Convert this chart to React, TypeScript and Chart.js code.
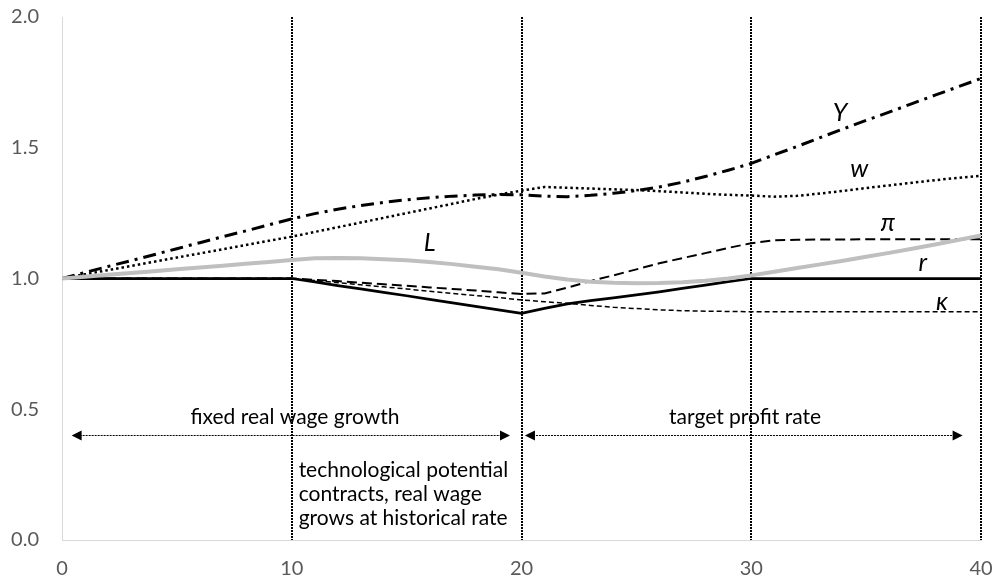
import React, { useEffect, useRef } from "react";
import { Chart, registerables } from "chart.js";
Chart.register(...registerables);

const years = [0,1,2,3,4,5,6,7,8,9,10,11,12,13,14,15,16,17,18,19,20,21,22,23,24,25,26,27,28,29,30,31,32,33,34,35,36,37,38,39,40];

const seriesY = [1.0,1.023,1.046,1.068,1.091,1.114,1.137,1.16,1.182,1.205,1.228,1.248,1.265,1.279,1.291,1.301,1.309,1.315,1.319,1.321,1.32,1.315,1.313,1.318,1.326,1.336,1.35,1.368,1.39,1.414,1.44,1.473,1.505,1.539,1.572,1.605,1.636,1.669,1.701,1.733,1.765];
const seriesW = [1.0,1.016,1.032,1.048,1.064,1.08,1.096,1.112,1.128,1.144,1.16,1.178,1.196,1.214,1.232,1.25,1.268,1.286,1.304,1.321,1.336,1.35,1.347,1.344,1.341,1.338,1.334,1.329,1.324,1.32,1.317,1.313,1.316,1.325,1.335,1.346,1.356,1.366,1.376,1.385,1.393];
const seriesPi = [1.0,1.0,1.0,1.0,1.0,1.0,1.0,1.0,1.0,1.0,1.0,0.995,0.99,0.984,0.978,0.972,0.966,0.96,0.954,0.947,0.941,0.943,0.965,0.99,1.012,1.035,1.058,1.078,1.097,1.117,1.135,1.146,1.148,1.149,1.149,1.15,1.15,1.15,1.15,1.15,1.15];
const seriesL = [1.0,1.007,1.014,1.021,1.028,1.035,1.042,1.049,1.056,1.063,1.071,1.077,1.078,1.077,1.074,1.07,1.063,1.055,1.045,1.035,1.022,1.008,0.996,0.988,0.984,0.982,0.983,0.986,0.991,1.0,1.012,1.026,1.04,1.054,1.068,1.083,1.098,1.114,1.13,1.147,1.165];
const seriesR = [1.0,1.0,1.0,1.0,1.0,1.0,1.0,1.0,1.0,1.0,1.0,0.987,0.973,0.96,0.947,0.934,0.92,0.907,0.893,0.88,0.867,0.886,0.903,0.915,0.926,0.937,0.949,0.962,0.975,0.988,1.0,1.0,1.0,1.0,1.0,1.0,1.0,1.0,1.0,1.0,1.0];
const seriesKappa = [1.0,1.0,1.0,1.0,1.0,1.0,1.0,1.0,1.0,1.0,1.0,0.992,0.984,0.976,0.968,0.96,0.951,0.943,0.935,0.927,0.918,0.911,0.905,0.897,0.89,0.885,0.88,0.877,0.875,0.874,0.873,0.873,0.873,0.873,0.873,0.873,0.873,0.873,0.873,0.873,0.873];

const yTicks = [0, 0.5, 1.0, 1.5, 2.0];
const xTicks = [0, 10, 20, 30, 40];
const phaseLines = [10, 20, 30, 40];

const seriesLabels = [
  { text: "Y", x: 33.86, y: 1.633 },
  { text: "w", x: 34.7, y: 1.419 },
  { text: "π", x: 35.95, y: 1.212 },
  { text: "L", x: 16.0, y: 1.136 },
  { text: "r", x: 37.47, y: 1.059 },
  { text: "κ", x: 38.3, y: 0.91 },
];

const arrows = [
  { from: 0.42, to: 19.5, y: 0.4 },
  { from: 20.15, to: 39.2, y: 0.4 },
];

const phaseTexts = [
  { lines: ["fixed real wage growth"], x: 10.14, y: 0.471, align: "center" },
  { lines: ["target profit rate"], x: 29.73, y: 0.471, align: "center" },
  { lines: ["technological potential", "contracts, real wage", "grows at historical rate"], x: 10.3, y: 0.268, align: "left" },
];

const FONT = "Lato, 'Open Sans', sans-serif";

const annotPlugin = {
  id: "annot",
  beforeDatasetsDraw(chart: any) {
    const { ctx, scales } = chart;
    const x = scales.x, y = scales.y;
    ctx.save();
    ctx.strokeStyle = "#000";
    ctx.lineWidth = 2;
    ctx.setLineDash([2, 1]);
    for (const v of phaseLines) {
      const px = Math.round(x.getPixelForValue(v));
      ctx.beginPath();
      ctx.moveTo(px, y.getPixelForValue(2));
      ctx.lineTo(px, y.getPixelForValue(0));
      ctx.stroke();
    }
    ctx.restore();
  },
  afterDatasetsDraw(chart: any) {
    const { ctx, scales } = chart;
    const x = scales.x, y = scales.y;
    ctx.save();
    for (const a of arrows) {
      const x1 = x.getPixelForValue(a.from);
      const x2 = x.getPixelForValue(a.to);
      const py = Math.round(y.getPixelForValue(a.y)) + 0.5;
      ctx.strokeStyle = "#000";
      ctx.lineWidth = 1;
      ctx.setLineDash([2, 1]);
      ctx.beginPath();
      ctx.moveTo(x1 + 8, py);
      ctx.lineTo(x2 - 8, py);
      ctx.stroke();
      ctx.setLineDash([]);
      ctx.fillStyle = "#000";
      ctx.beginPath();
      ctx.moveTo(x1, py);
      ctx.lineTo(x1 + 10, py - 5);
      ctx.lineTo(x1 + 10, py + 5);
      ctx.closePath();
      ctx.fill();
      ctx.beginPath();
      ctx.moveTo(x2, py);
      ctx.lineTo(x2 - 10, py - 5);
      ctx.lineTo(x2 - 10, py + 5);
      ctx.closePath();
      ctx.fill();
    }
    ctx.fillStyle = "#000";
    ctx.font = `21px ${FONT}`;
    ctx.textBaseline = "middle";
    for (const t of phaseTexts) {
      ctx.textAlign = t.align as CanvasTextAlign;
      const px = x.getPixelForValue(t.x);
      const py0 = y.getPixelForValue(t.y);
      t.lines.forEach((ln, i) => ctx.fillText(ln, px, py0 + i * 24));
    }
    ctx.font = `italic 25px ${FONT}`;
    ctx.textAlign = "center";
    for (const l of seriesLabels) {
      ctx.fillText(l.text, x.getPixelForValue(l.x), y.getPixelForValue(l.y));
    }
    ctx.restore();
  },
};

function pts(arr: number[]) {
  return years.map((yr, i) => ({ x: yr, y: arr[i] }));
}

export default function App() {
  const ref = useRef<HTMLCanvasElement | null>(null);
  useEffect(() => {
    if (!ref.current) return;
    const common = { pointRadius: 0, tension: 0, fill: false };
    const chart = new Chart(ref.current, {
      type: "line",
      data: {
        datasets: [
          { ...common, label: "L", data: pts(seriesL), borderColor: "#bfbfbf", borderWidth: 4 },
          { ...common, label: "kappa", data: pts(seriesKappa), borderColor: "#000", borderWidth: 1.5, borderDash: [5, 3] },
          { ...common, label: "pi", data: pts(seriesPi), borderColor: "#000", borderWidth: 2, borderDash: [10, 5] },
          { ...common, label: "r", data: pts(seriesR), borderColor: "#000", borderWidth: 2.75 },
          { ...common, label: "w", data: pts(seriesW), borderColor: "#000", borderWidth: 2.5, borderDash: [2.5, 3] },
          { ...common, label: "Y", data: pts(seriesY), borderColor: "#000", borderWidth: 3, borderDash: [13, 6, 3, 6] },
        ],
      },
      options: {
        animation: false,
        responsive: false,
        maintainAspectRatio: false,
        layout: { padding: { left: 0, top: 17, right: 16, bottom: 0 } },
        plugins: { legend: { display: false }, tooltip: { enabled: false } },
        scales: {
          x: {
            type: "linear",
            min: 0,
            max: 40,
            afterBuildTicks: (s: any) => { s.ticks = xTicks.map((v) => ({ value: v })); },
            afterFit: (s: any) => { s.height = 42; s.paddingLeft = 0; s.paddingRight = 0; s.paddingTop = 0; s.paddingBottom = 0; },
            grid: { display: false, drawTicks: false },
            border: { display: true, color: "#d9d9d9", width: 1 },
            ticks: { color: "#595959", font: { family: FONT, size: 20 }, padding: 17, maxRotation: 0 },
          },
          y: {
            type: "linear",
            min: 0,
            max: 2,
            afterBuildTicks: (s: any) => { s.ticks = yTicks.map((v) => ({ value: v })); },
            afterFit: (s: any) => { s.width = 62; s.paddingTop = 0; s.paddingBottom = 0; s.paddingLeft = 0; s.paddingRight = 0; },
            grid: { display: false, drawTicks: false },
            border: { display: true, color: "#d9d9d9", width: 1 },
            ticks: { color: "#595959", font: { family: FONT, size: 20 }, padding: 23, callback: (v: any) => Number(v).toFixed(1) },
          },
        },
      },
      plugins: [annotPlugin],
    } as any);
    return () => chart.destroy();
  }, []);
  return (
    <div style={{ position: "fixed", left: 0, top: 0, width: 997, height: 582, background: "#fff" }}>
      <canvas ref={ref} width={997} height={582} style={{ width: 997, height: 582, display: "block" }} />
    </div>
  );
}
